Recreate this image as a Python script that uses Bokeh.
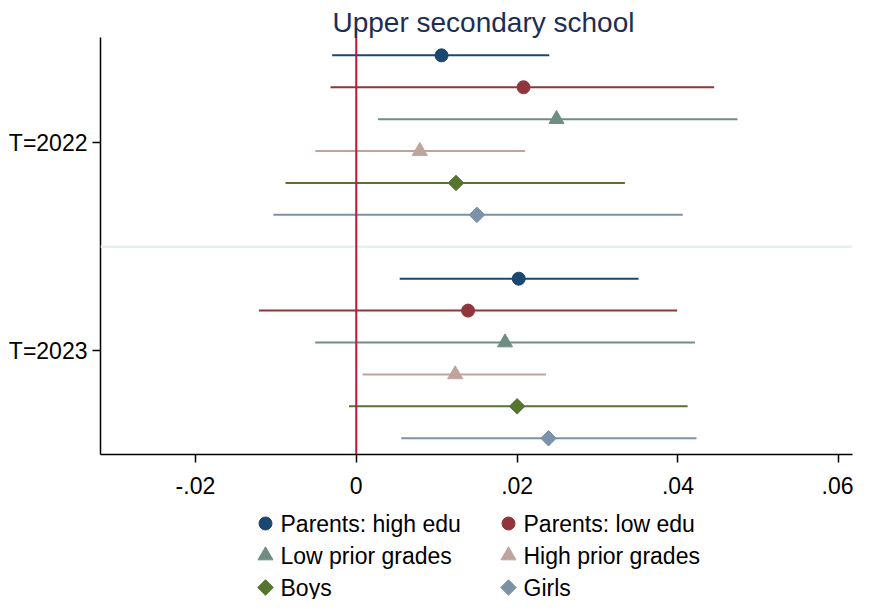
import numpy as np
from bokeh.plotting import figure
from bokeh.layouts import column
from bokeh.models import Range1d, FixedTicker, Span, ColumnDataSource
from bokeh.core.properties import value
from bokeh.embed import file_html
from bokeh.resources import INLINE

# ---- data ----
groups = ["T=2022", "T=2023"]
series = ["Parents: high edu", "Parents: low edu", "Low prior grades",
          "High prior grades", "Boys", "Girls"]
coef_2022 = [0.0106, 0.0208, 0.0249, 0.0079, 0.0124, 0.0150]
lo_2022 = [-0.0030, -0.0032, 0.0027, -0.0051, -0.0088, -0.0103]
hi_2022 = [0.0240, 0.0445, 0.0474, 0.0210, 0.0334, 0.0406]
coef_2023 = [0.0202, 0.0139, 0.0185, 0.0123, 0.0200, 0.0239]
lo_2023 = [0.0054, -0.0121, -0.0051, 0.0008, -0.0009, 0.0056]
hi_2023 = [0.0351, 0.0399, 0.0421, 0.0236, 0.0412, 0.0423]
x_ticks = [-0.02, 0.0, 0.02, 0.04, 0.06]
x_tick_labels = ["-.02", "0", ".02", ".04", ".06"]

colors = ["#1a476f", "#90353b", "#6e8e84", "#c0a39c", "#55752f", "#7b92a8"]
markers = ["circle", "circle", "triangle", "triangle", "square", "square"]
angles = [0, 0, 0, 0, np.pi / 4, np.pi / 4]
sizes = [13, 13, 15, 15, 11, 11]

FONT = "Liberation Sans"
W = 853
MAIN_H = 505
LEG_H = 94
FL, FR = 100, 852   # frame left / right in page pixels

p = figure(width=W, height=MAIN_H, output_backend="svg", toolbar_location=None,
           x_range=Range1d(-0.0318, 0.0617), y_range=Range1d(2.43, 0.563),
           min_border_left=FL, min_border_right=W - FR, min_border_top=37,
           min_border_bottom=51)
p.outline_line_color = None
p.xgrid.grid_line_color = None
p.ygrid.grid_line_color = None

p.title.text = "Upper secondary school"
p.title.align = "left"
p.title.text_font = FONT
p.title.text_font_size = "28px"
p.title.text_font_style = "normal"
p.title.text_color = "#1e2d53"
p.title.standoff = 0
p.title.offset = 232

# separator and zero line
p.add_layout(Span(location=1.5, dimension="width", line_color="#e6eff1", line_width=2.5))
p.add_layout(Span(location=0, dimension="height", line_color="#c1163a", line_width=2))

n = len(series)
for k in range(n):
    offs = (k - (n - 1) / 2) / (n + 1)
    ys = [1 + offs, 2 + offs]
    src = ColumnDataSource(dict(
        y=ys, c=[coef_2022[k], coef_2023[k]],
        lo=[lo_2022[k], lo_2023[k]], hi=[hi_2022[k], hi_2023[k]]))
    p.segment(x0="lo", x1="hi", y0="y", y1="y", source=src,
              line_color=colors[k], line_width=2)
    p.scatter(x="c", y="y", source=src, marker=markers[k], size=sizes[k],
              angle=angles[k], fill_color=colors[k], line_color=colors[k])

# axes
y_tick_pos = [1.035, 1.966]
for ax in (p.xaxis[0], p.yaxis[0]):
    ax.axis_line_width = 1.5
    ax.major_tick_line_width = 1.5
    ax.major_tick_out = 8
    ax.major_tick_in = 0
    ax.minor_tick_line_color = None
    ax.major_label_text_font = FONT
    ax.major_label_text_font_size = "23px"
    ax.major_label_text_color = "black"
    ax.axis_line_color = "black"
    ax.major_tick_line_color = "black"

p.xaxis.ticker = FixedTicker(ticks=x_ticks)
p.xaxis.major_label_overrides = {t: l for t, l in zip(x_ticks, x_tick_labels)}
p.xaxis.major_label_standoff = 14
p.yaxis.ticker = FixedTicker(ticks=y_tick_pos)
p.yaxis.major_label_overrides = {t: l for t, l in zip(y_tick_pos, groups)}
p.yaxis.major_label_standoff = 5

# ---- legend as a small figure below (frame aligned with the main one) ----
lg = figure(width=W, height=LEG_H, output_backend="svg", toolbar_location=None,
            x_range=Range1d(FL, FR), y_range=Range1d(LEG_H, 0),
            x_axis_type=None, y_axis_type=None,
            min_border_left=FL, min_border_right=W - FR, min_border_top=0,
            min_border_bottom=0)
lg.outline_line_color = None
lg.xgrid.grid_line_color = None
lg.ygrid.grid_line_color = None

col_x = [265, 508]
row_y = [18, 50, 82]
for k in range(n):
    mx = col_x[k % 2]
    my = row_y[k // 2]
    lg.scatter(x=[mx], y=[my], marker=markers[k], size=sizes[k], angle=angles[k],
               fill_color=colors[k], line_color=colors[k])
    lg.text(x=[mx + 15], y=[my], text=[series[k]], text_font=value(FONT),
            text_font_size="23px", text_baseline="middle", text_align="left",
            text_color="black")

layout = column(p, lg, spacing=0)
open("out.html", "w").write(file_html(layout, INLINE))
